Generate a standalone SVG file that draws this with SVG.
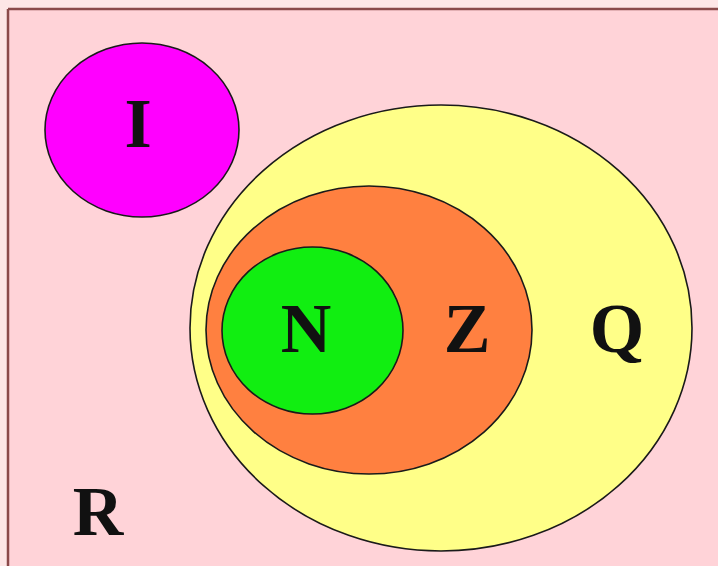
<svg xmlns="http://www.w3.org/2000/svg" width="718" height="566" viewBox="0 0 718 566">
<style>
.set{stroke:#1a1a1a;stroke-width:1.6}
</style>
<rect x="0" y="0" width="718" height="566" fill="#fde6e6"/>
<rect x="8" y="9" width="712" height="560" fill="#ffd3d8"/>
<line x1="8" y1="9" x2="718" y2="9" stroke="#8a4a4a" stroke-width="2.5"/>
<line x1="8" y1="9" x2="8" y2="566" stroke="#8a4a4a" stroke-width="2.5"/>
<g font-family="Liberation Serif, serif" font-weight="bold" font-size="70" fill="#111" text-anchor="middle">
<g id="I">
<ellipse class="set" cx="142" cy="130" rx="97" ry="87" fill="#ff00ff"/>
<text x="138" y="147">I</text>
</g>
<g id="Q">
<ellipse class="set" cx="441" cy="328" rx="251" ry="223" fill="#ffff88"/>
<text x="617" y="352">Q</text>
</g>
<g id="Z">
<ellipse class="set" cx="369" cy="330" rx="163" ry="144" fill="#ff8040"/>
<text x="467" y="352">Z</text>
</g>
<g id="N">
<ellipse class="set" cx="312.5" cy="330.5" rx="90.5" ry="83.5" fill="#11ee11"/>
<text x="306" y="352">N</text>
</g>
<g id="R">
<text x="98" y="535">R</text>
</g>
</g>
<g id="connectors"/>
</svg>
